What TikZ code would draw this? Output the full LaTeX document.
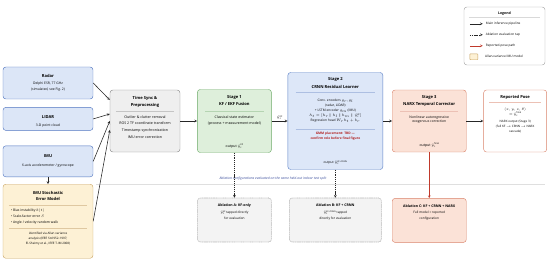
\documentclass[tikz,border=0pt]{standalone}
\usepackage{fontspec}
\setmainfont{Open Sans}
\usepackage{xcolor}
\usepackage{tikz}
\usetikzlibrary{positioning, calc, arrows}

\definecolor{sensfill}{HTML}{DCE6F7}
\definecolor{sensdraw}{HTML}{5075C0}
\definecolor{allanfill}{HTML}{FDF1D5}
\definecolor{allandraw}{HTML}{C9A463}
\definecolor{syncfill}{HTML}{EFEFEF}
\definecolor{syncdraw}{HTML}{8A8A8A}
\definecolor{kffill}{HTML}{DEEFDB}
\definecolor{kfdraw}{HTML}{6BAA66}
\definecolor{crnnfill}{HTML}{DDE7F8}
\definecolor{crnndraw}{HTML}{5B80C6}
\definecolor{narxfill}{HTML}{FBE2D7}
\definecolor{narxdraw}{HTML}{D9836B}
\definecolor{ablfill}{HTML}{F3F3F3}
\definecolor{posered}{HTML}{C0392B}
\definecolor{capblue}{HTML}{3B4E9C}
\definecolor{tbdred}{HTML}{B22222}

% estimate with subscript t and a text superscript
\newcommand{\yh}[1]{$\hat{y}$\rlap{\raisebox{-0.5ex}{\scalebox{0.68}{$t$}}}\raisebox{0.8ex}{\scalebox{0.68}{#1}}}

\begin{document}
\begin{tikzpicture}[x=0.05cm, y=0.05cm, font={\fontsize{5}{8.2}\selectfont}]
    \tikzstyle{box} = [rectangle, rounded corners=4pt, line width=0.6pt]
    \tikzstyle{hd} = [font={\fontsize{5.8}{10}\selectfont\bfseries}, align=center, inner sep=0pt, anchor=north]
    \tikzstyle{txt} = [align=center, inner sep=0pt, anchor=north]
    \tikzstyle{outtxt} = [inner sep=0pt, anchor=base]
    \tikzstyle{divider} = [line width=0.4pt]
    \tikzstyle{arrow} = [thick,->,>=stealth, draw=black!85]
    \tikzstyle{tap} = [thick,->,>=stealth, draw=black!85, dash pattern=on 1.5pt off 1.2pt]
    \tikzstyle{posearrow} = [thick,->,>=stealth, draw=posered]

    \useasboundingbox (0,0) rectangle (550,262);

    % sensors and IMU error model
    \node (radar) [box, draw=sensdraw, fill=sensfill, minimum width=4.5cm, minimum height=1.6cm] at (48,179) {};
    \node (lidar) [box, draw=sensdraw, fill=sensfill, minimum width=4.5cm, minimum height=1.15cm, below=0.4cm of radar] {};
    \node (imu) [box, draw=sensdraw, fill=sensfill, minimum width=4.5cm, minimum height=1.55cm, below=0.75cm of lidar] {};
    \node (allan) [box, draw=allandraw, fill=allanfill, minimum width=4.5cm, minimum height=3.7cm, below=0.35cm of imu] {};

    \node (radar-t) [hd] at ($(radar.north)+(0,-7)$) {Radar};
    \node (radar-b) [txt, font={\fontsize{4.8}{8.5}\selectfont}] at ($(radar.north)+(0,-14.7)$) {Delphi ESR, 77 GHz\\(simulated, see Fig.~2)};
    \node (lidar-t) [hd] at ($(lidar.north)+(0,-8.5)$) {LIDAR};
    \node (lidar-b) [txt, font={\fontsize{4.8}{8.5}\selectfont}] at ($(lidar.north)+(0,-16.7)$) {3-D point cloud};
    \node (imu-t) [hd] at ($(imu.north)+(0,-8.5)$) {IMU};
    \node (imu-b) [txt, font={\fontsize{4.8}{8.5}\selectfont}] at ($(imu.north)+(0,-17.7)$) {6-axis accelerometer / gyroscope};

    \node (allan-t) [hd, font={\fontsize{5.8}{9.2}\selectfont\bfseries}] at ($(allan.north)+(0,-7)$) {IMU Stochastic\\Error Model};
    \draw [divider, draw=allandraw!60] ($(allan.north west)+(6,-21)$) -- ($(allan.north east)+(-6,-21)$);
    \node (allan-b) [txt, align=left, anchor=north west, font={\fontsize{4.8}{8.5}\selectfont}] at ($(allan.north west)+(8,-24.7)$) {• Bias instability $b(t)$\\• Scale-factor error $S$\\• Angle / velocity random walk};
    \draw [divider, draw=allandraw!60] ($(allan.north west)+(6,-44)$) -- ($(allan.north east)+(-6,-44)$);
    \node (allan-r) [txt, font={\fontsize{4.3}{7}\selectfont}] at ($(allan.north)+(0,-47.7)$) {identified via Allan variance\\analysis (IEEE Std 952-1997;\\El-Sheimy et al., IEEE T-IM 2008)};

    % main pipeline
    \node (sync) [box, draw=syncdraw, fill=syncfill, minimum width=3.5cm, minimum height=3.1cm] at (145,141) {};
    \node (kf) [box, draw=kfdraw, fill=kffill, minimum width=3.7cm, minimum height=3.15cm, right=0.85cm of sync] {};
    \node (crnn) [box, draw=crnndraw, fill=crnnfill, minimum width=4.75cm, minimum height=4.85cm, right=0.8cm of kf] {};
    \node (narx) [box, draw=narxdraw, fill=narxfill, minimum width=3.7cm, minimum height=3.1cm, right=0.45cm of crnn] {};
    \node (pose) [box, draw=narxdraw, fill=white, minimum width=3.15cm, minimum height=3.1cm, right=0.85cm of narx] {};

    \node (sync-t) [hd] at ($(sync.north)+(0,-6.5)$) {Time Sync \&\\Preprocessing};
    \draw [divider, draw=syncdraw!50] ($(sync.north west)+(6,-21)$) -- ($(sync.north east)+(-6,-21)$);
    \node (sync-b) [txt, font={\fontsize{5.1}{9.5}\selectfont}] at ($(sync.north)+(0,-25.5)$) {Outlier \& clutter removal\\ROS 2 TF coordinate transform\\Timestamp synchronization\\IMU error correction};

    \node (kf-t) [hd] at ($(kf.north)+(0,-6.5)$) {Stage 1\\KF / EKF Fusion};
    \draw [divider, draw=kfdraw!50] ($(kf.north west)+(8,-22)$) -- ($(kf.north east)+(-8,-22)$);
    \node (kf-b) [txt] at ($(kf.north)+(0,-26.5)$) {Classical state estimator\\(process + measurement model)};
    \node (kf-o) [outtxt] at ($(kf.south)+(0,5.5)$) {output \yh{KF}};

    \node (crnn-t) [hd, font={\fontsize{5.8}{11}\selectfont\bfseries}] at ($(crnn.north)+(0,-5.5)$) {Stage 2\\CRNN Residual Learner};
    \draw [divider, draw=crnndraw!50] ($(crnn.north west)+(8,-20)$) -- ($(crnn.north east)+(-8,-20)$);
    \node (crnn-b) [txt, font={\fontsize{4.6}{7.2}\selectfont}] at ($(crnn.north)+(0,-26.7)$) {Conv. encoders $g_r$, $g_l$\\(radar, LiDAR)\\+ LSTM encoder $g_m$ (IMU)\\$h_t = [h_r \,\|\, h_l \,\|\, h_m \,\|\,$ \yh{KF}$]$\\Regression head $W_r h_t + b_r$};
    \draw [divider, draw=crnndraw!50] ($(crnn.north west)+(8,-57)$) -- ($(crnn.north east)+(-8,-57)$);
    \node (crnn-r) [txt, text=tbdred, font={\fontsize{4.6}{6.4}\selectfont\bfseries}] at ($(crnn.north)+(0,-59.7)$) {GMM placement: TBD —\\confirm role before final figure};
    \node (crnn-o) [outtxt, font={\fontsize{4.6}{7}\selectfont}] at ($(crnn.south)+(0,5.8)$) {output \yh{KF+CRNN}};

    \node (narx-t) [hd] at ($(narx.north)+(0,-5.5)$) {Stage 3\\NARX Temporal Corrector};
    \draw [divider, draw=narxdraw!50] ($(narx.north west)+(8,-21)$) -- ($(narx.north east)+(-8,-21)$);
    \node (narx-b) [txt, font={\fontsize{4.8}{6.8}\selectfont}] at ($(narx.north)+(0,-25.7)$) {Nonlinear autoregressive\\exogenous correction};
    \node (narx-o) [outtxt] at ($(narx.south)+(0,5.8)$) {output \yh{final}};

    \node (pose-t) [hd] at ($(pose.north)+(0,-5.5)$) {Reported Pose};
    \draw [divider, draw=narxdraw!50] ($(pose.north west)+(6,-12)$) -- ($(pose.north east)+(-6,-12)$);
    \node (pose-b) [txt, font={\fontsize{5}{7}\selectfont}] at ($(pose.north)+(0,-17.7)$) {$(x, y, z, \theta)$\\$=$ \yh{final}};
    \node (pose-n) [txt, font={\fontsize{4.3}{7}\selectfont}] at ($(pose.north)+(0,-30.7)$) {NARX output (Stage 3)\\(full KF $\rightarrow$ CRNN $\rightarrow$ NARX\\cascade)};

    % ablation row
    \coordinate (sep-l) at (96,78);
    \coordinate (sep-r) at (545,78);
    \draw [gray!25, line width=0.5pt] (sep-l) -- (sep-r);
    \node (abl-cap) [inner sep=0pt, text=capblue, font={\fontsize{4.8}{6}\selectfont\itshape}] at (273,83) {Ablation configurations evaluated on the same held-out indoor test split};

    \node (abla) [box, draw=gray!80, fill=ablfill, densely dotted, thick, minimum width=3.7cm, minimum height=2.2cm, below=2.25cm of kf] {};
    \node (ablb) [box, draw=gray!80, fill=ablfill, densely dotted, thick, minimum width=4.6cm, minimum height=2.2cm, below=1.4cm of crnn] {};
    \node (ablc) [box, draw=narxdraw, fill=narxfill, minimum width=3.7cm, minimum height=2.2cm, below=2.3cm of narx] {};

    \node (abla-t) [hd, font={\fontsize{5}{8}\selectfont\bfseries}] at ($(abla.north)+(0,-6)$) {Ablation A: KF-only};
    \node (abla-b) [txt, font={\fontsize{4.5}{8}\selectfont}] at ($(abla.north)+(0,-12.7)$) {\yh{KF} tapped directly\\for evaluation};
    \node (ablb-t) [hd, font={\fontsize{5}{8}\selectfont\bfseries}] at ($(ablb.north)+(0,-6)$) {Ablation B: KF + CRNN};
    \node (ablb-b) [txt, font={\fontsize{4.5}{8}\selectfont}] at ($(ablb.north)+(0,-12.7)$) {\yh{KF+CRNN} tapped\\directly for evaluation};
    \node (ablc-t) [hd, font={\fontsize{5}{8}\selectfont\bfseries}] at ($(ablc.north)+(0,-6)$) {Ablation C: KF + CRNN + NARX};
    \node (ablc-b) [txt, font={\fontsize{4.5}{8}\selectfont}] at ($(ablc.north)+(0,-12.7)$) {Full model = reported\\configuration};

    % legend
    \node (legend) [box, draw=gray!70, fill=white, minimum width=4.05cm, minimum height=2.9cm] at (504.5,226) {};
    \node (legend-t) [hd, font={\fontsize{5}{6}\selectfont\bfseries}] at ($(legend.north)+(0,-4.5)$) {Legend};
    \draw [divider, draw=gray!30] ($(legend.north west)+(5,-10)$) -- ($(legend.north east)+(-5,-10)$);
    \coordinate (lg-s1) at ($(legend.north west)+(6,-17)$);
    \coordinate (lg-e1) at ($(legend.north west)+(19,-17)$);
    \coordinate (lg-s2) at ($(legend.north west)+(6,-28)$);
    \coordinate (lg-e2) at ($(legend.north west)+(19,-28)$);
    \coordinate (lg-s3) at ($(legend.north west)+(6,-39)$);
    \coordinate (lg-e3) at ($(legend.north west)+(19,-39)$);
    \node (lg-sq) [box, rounded corners=1pt, draw=allandraw, fill=allanfill, minimum width=0.4cm, minimum height=0.3cm] at ($(legend.north west)+(10,-50)$) {};
    \draw [arrow] (lg-s1) -- (lg-e1);
    \draw [tap] (lg-s2) -- (lg-e2);
    \draw [posearrow] (lg-s3) -- (lg-e3);
    \node (lg-l1) [anchor=west, inner sep=0pt, font={\fontsize{4.5}{6}\selectfont}] at ($(lg-e1)+(3,0)$) {Main inference pipeline};
    \node (lg-l2) [anchor=west, inner sep=0pt, font={\fontsize{4.5}{6}\selectfont}] at ($(lg-e2)+(3,0)$) {Ablation evaluation tap};
    \node (lg-l3) [anchor=west, inner sep=0pt, font={\fontsize{4.5}{6}\selectfont}] at ($(lg-e3)+(3,0)$) {Reported-pose path};
    \node (lg-l4) [anchor=west, inner sep=0pt, font={\fontsize{4.5}{6}\selectfont}] at ($(lg-sq.east)+(7,0)$) {Allan-variance IMU model};

    % connectors
    \draw [arrow] (radar.east) -- ([yshift=1.05cm]sync.west);
    \draw [arrow] (lidar.east) -- ([yshift=0.35cm]sync.west);
    \draw [arrow] (imu.east) -- (sync.west);
    \draw [arrow] (allan.east) -- ([yshift=-0.45cm]sync.west);
    \draw [arrow] (imu) -- (allan);
    \draw [arrow] (sync) -- (kf);
    \draw [arrow] (kf) -- node[above, inner sep=1.5pt] (kf-lab) {\yh{KF}} (crnn);
    \draw [arrow] (crnn) -- (narx);
    \draw [arrow] (narx) -- (pose);
    \draw [tap] (kf) -- (abla);
    \draw [tap] (crnn) -- (ablb);
    \draw [posearrow] (narx) -- (ablc);
\end{tikzpicture}
\end{document}
